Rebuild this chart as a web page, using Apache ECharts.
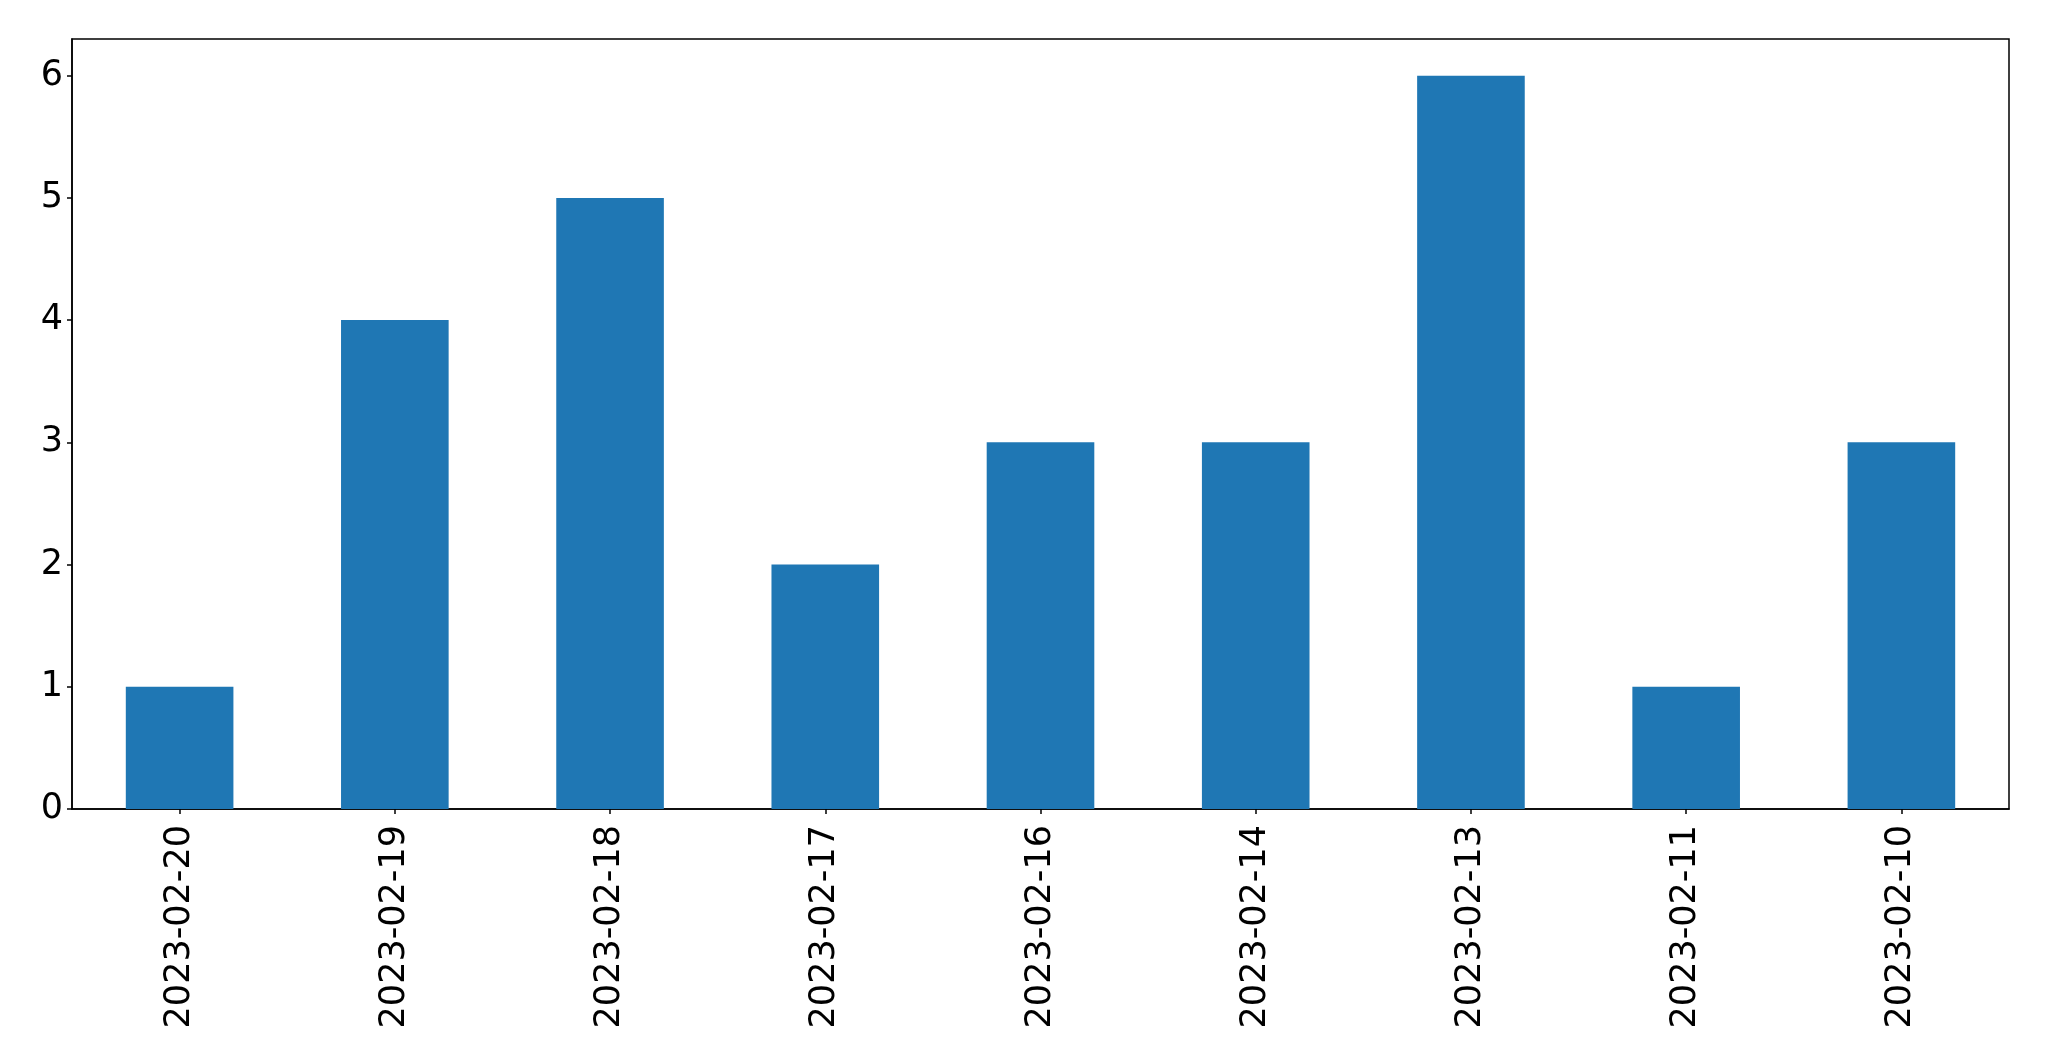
<!DOCTYPE html>
<html><head><meta charset="utf-8">
<script src="https://cdn.jsdelivr.net/npm/echarts@6/dist/echarts.min.js"></script>
<style>html,body{margin:0;padding:0;background:#fff}#c{width:2049px;height:1061px}</style>
</head><body><div id="c"></div>
<script>
const categories = ["2023-02-20","2023-02-19","2023-02-18","2023-02-17","2023-02-16","2023-02-14","2023-02-13","2023-02-11","2023-02-10"];
const values = [1,4,5,2,3,3,6,1,3];
const yTicks = [0,1,2,3,4,5,6];

const chart = echarts.init(document.getElementById('c'));
chart.setOption({
  animation: false,
  backgroundColor: '#fff',
  grid: {left: 72, right: 40, top: 39, bottom: 252, show: true, borderColor: '#000', borderWidth: 1.5, backgroundColor: 'transparent'},
  xAxis: {
    type: 'category', data: categories, boundaryGap: true,
    axisLine: {show: true, lineStyle: {color: '#000', width: 1.5}},
    axisTick: {show: true, alignWithLabel: true, length: 5, lineStyle: {color: '#000', width: 1.5}},
    axisLabel: {rotate: 90, color: '#000', fontFamily: 'DejaVu Sans', fontSize: 35, margin: 16, interval: 0},
    splitLine: {show: false}
  },
  yAxis: {
    type: 'value', min: 0, max: 6.3, interval: 1,
    axisLine: {show: true, lineStyle: {color: '#000', width: 1.5}},
    axisTick: {show: true, length: 5, lineStyle: {color: '#000', width: 1.5}},
    axisLabel: {color: '#000', fontFamily: 'DejaVu Sans', fontSize: 35, margin: 9, showMaxLabel: false,
      formatter: v => yTicks.includes(v) ? String(v) : ''},
    splitLine: {show: false}
  },
  series: [{type: 'bar', data: values, barWidth: '50%', itemStyle: {color: '#1f77b4'}}]
});
</script></body></html>
